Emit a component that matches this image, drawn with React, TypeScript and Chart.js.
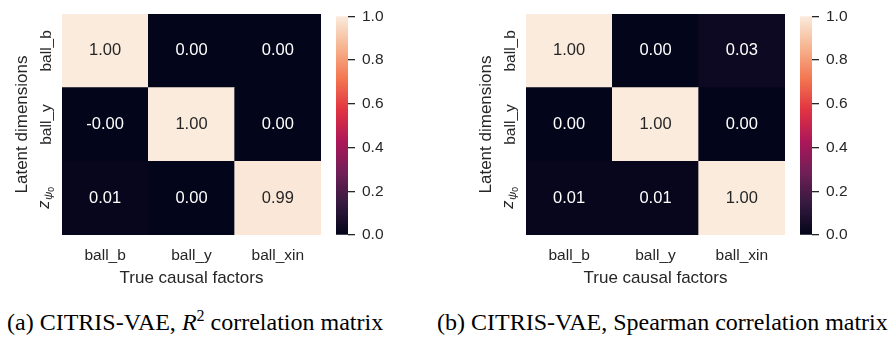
import React, { useEffect, useRef } from "react";
import { Chart, registerables } from "chart.js";

Chart.register(...registerables);

// ---------- data ----------
const factorLabels = ["ball_b", "ball_y", "ball_xin"];
const latentLabels = ["ball_b", "ball_y", "z_psi0"]; // top to bottom
const r2Matrix = [
  [1.0, 0.0, 0.0],
  [-0.001, 1.0, 0.0],
  [0.01, 0.0, 0.99],
];
const spearmanMatrix = [
  [1.0, 0.0, 0.03],
  [0.0, 1.0, 0.0],
  [0.01, 0.01, 1.0],
];
const colorbarTicks = [0, 0.2, 0.4, 0.6, 0.8, 1.0];
const xAxisTitle = "True causal factors";
const yAxisTitle = "Latent dimensions";

// ---------- styles ----------
const FONT = '"Liberation Sans", Arial, sans-serif';
const TEXT_DARK = "#262626";
const rocketStops: [number, string][] = [
  [0, "#03051a"],
  [1 / 7, "#35193e"],
  [2 / 7, "#701f57"],
  [3 / 7, "#ad1759"],
  [4 / 7, "#e13342"],
  [5 / 7, "#f37651"],
  [6 / 7, "#f6b48f"],
  [1, "#faebdd"],
];

function hexToRgb(h: string): number[] {
  return [1, 3, 5].map((i) => parseInt(h.slice(i, i + 2), 16));
}

function rocketRgb(v: number): number[] {
  const t = Math.max(0, Math.min(1, v));
  for (let i = 0; i < rocketStops.length - 1; i++) {
    const [p0, c0] = rocketStops[i];
    const [p1, c1] = rocketStops[i + 1];
    if (t <= p1) {
      const f = (t - p0) / (p1 - p0);
      const a = hexToRgb(c0);
      const b = hexToRgb(c1);
      return a.map((x, k) => Math.round(x + (b[k] - x) * f));
    }
  }
  return hexToRgb(rocketStops[rocketStops.length - 1][1]);
}

function rocketColor(v: number): string {
  const [r, g, b] = rocketRgb(v);
  return `rgb(${r},${g},${b})`;
}

function textColorFor(v: number): string {
  const lin = rocketRgb(v).map((c) => {
    const s = c / 255;
    return s <= 0.03928 ? s / 12.92 : Math.pow((s + 0.055) / 1.055, 2.4);
  });
  const lum = 0.2126 * lin[0] + 0.7152 * lin[1] + 0.0722 * lin[2];
  return lum > 0.408 ? TEXT_DARK : "#ffffff";
}

function makeHeatmap(canvas: HTMLCanvasElement, matrix: number[][]) {
  const nRows = matrix.length;
  const datasets: any[] = [];
  for (let r = nRows - 1; r >= 0; r--) {
    datasets.push({
      data: factorLabels.map(() => 1),
      backgroundColor: matrix[r].map((v) => rocketColor(v)),
      borderWidth: 0,
      barPercentage: 1,
      categoryPercentage: 1,
    });
  }

  const textPlugin = {
    id: "heatmapText",
    afterDraw(chart: any) {
      const ctx = chart.ctx as CanvasRenderingContext2D;
      const xs = chart.scales.x;
      const ys = chart.scales.y;
      ctx.save();
      ctx.textAlign = "center";
      ctx.textBaseline = "middle";
      ctx.font = `16.5px ${FONT}`;
      matrix.forEach((row, r) =>
        row.forEach((v, c) => {
          const x = xs.getPixelForValue(c);
          const y = ys.getPixelForValue(nRows - r - 0.5);
          ctx.fillStyle = textColorFor(v);
          ctx.fillText(v.toFixed(2), x, y);
        })
      );
      // row labels (rotated)
      const xc = chart.chartArea.left - 15;
      latentLabels.forEach((lab, r) => {
        const yc = ys.getPixelForValue(nRows - r - 0.5);
        ctx.save();
        ctx.translate(xc, yc);
        ctx.rotate(-Math.PI / 2);
        ctx.fillStyle = TEXT_DARK;
        if (lab === "z_psi0") {
          const f1 = `italic 16.5px ${FONT}`;
          const f2 = `italic 11.5px ${FONT}`;
          const f3 = `8.5px ${FONT}`;
          ctx.font = f1;
          const wz = ctx.measureText("z").width;
          ctx.font = f2;
          const wp = ctx.measureText("\u03c8").width;
          ctx.font = f3;
          const w0 = ctx.measureText("0").width;
          let x0 = -(wz + wp + w0) / 2;
          ctx.textAlign = "left";
          ctx.textBaseline = "alphabetic";
          ctx.font = f1;
          ctx.fillText("z", x0, 2);
          x0 += wz + 0.5;
          ctx.font = f2;
          ctx.fillText("\u03c8", x0, 5);
          x0 += wp;
          ctx.font = f3;
          ctx.fillText("0", x0, 7);
        } else {
          ctx.font = `15.5px ${FONT}`;
          ctx.fillText(lab, 0, 0);
        }
        ctx.restore();
      });
      ctx.restore();
    },
  };

  return new Chart(canvas, {
    type: "bar",
    data: { labels: factorLabels, datasets },
    options: {
      animation: false,
      responsive: false,
      maintainAspectRatio: false,
      devicePixelRatio: 1,
      events: [],
      layout: { padding: { top: 14, right: 9, left: 0, bottom: 0 } },
      plugins: { legend: { display: false }, tooltip: { enabled: false } },
      scales: {
        x: {
          stacked: true,
          grid: { display: false },
          border: { display: false },
          ticks: { color: TEXT_DARK, font: { family: FONT, size: 15.5 }, padding: 3 },
          title: {
            display: true,
            text: xAxisTitle,
            color: TEXT_DARK,
            font: { family: FONT, size: 17 },
            padding: { top: 0, bottom: 1 },
          },
          afterFit: (s: any) => {
            s.height = 55;
          },
        },
        y: {
          stacked: true,
          min: 0,
          max: 3,
          grid: { display: false },
          border: { display: false },
          ticks: { display: false },
          title: {
            display: true,
            text: yAxisTitle,
            color: TEXT_DARK,
            font: { family: FONT, size: 17 },
            padding: { top: 12, bottom: 0 },
          },
          afterFit: (s: any) => {
            s.width = 62;
          },
        },
      },
    },
    plugins: [textPlugin],
  } as any);
}

function makeColorbar(canvas: HTMLCanvasElement) {
  return new Chart(canvas, {
    type: "bar",
    data: {
      labels: [""],
      datasets: [
        {
          data: [[colorbarTicks[0], colorbarTicks[colorbarTicks.length - 1]]],
          backgroundColor: (c: any) => {
            const ca = c.chart.chartArea;
            if (!ca) return rocketColor(0.5);
            const g = c.chart.ctx.createLinearGradient(0, ca.bottom, 0, ca.top);
            rocketStops.forEach(([p, col]) => g.addColorStop(p, col));
            return g;
          },
          borderWidth: 0,
          barPercentage: 1,
          categoryPercentage: 1,
        },
      ],
    },
    options: {
      animation: false,
      responsive: false,
      maintainAspectRatio: false,
      devicePixelRatio: 1,
      events: [],
      layout: { padding: { top: 14, right: 0, left: 0, bottom: 55 } },
      plugins: { legend: { display: false }, tooltip: { enabled: false } },
      scales: {
        x: { display: false },
        y: {
          position: "right",
          min: 0,
          max: 1,
          afterBuildTicks: (s: any) => {
            s.ticks = colorbarTicks.map((v) => ({ value: v }));
          },
          grid: {
            display: true,
            drawOnChartArea: false,
            drawTicks: true,
            tickLength: 7,
            color: TEXT_DARK,
            lineWidth: 1.3,
          },
          border: { display: false },
          ticks: {
            color: TEXT_DARK,
            font: { family: FONT, size: 15.5 },
            padding: 7,
            callback: (v: any) => Number(v).toFixed(1),
          },
          afterFit: (s: any) => {
            s.width = 52;
          },
        },
      },
    },
  } as any);
}

function Panel({ left, matrix }: { left: number; matrix: number[][] }) {
  const hmRef = useRef<HTMLCanvasElement>(null);
  const cbRef = useRef<HTMLCanvasElement>(null);
  useEffect(() => {
    const hm = makeHeatmap(hmRef.current!, matrix);
    const cb = makeColorbar(cbRef.current!);
    return () => {
      hm.destroy();
      cb.destroy();
    };
  }, [matrix]);
  return (
    <>
      <canvas ref={hmRef} width={330} height={290} style={{ position: "absolute", left, top: 0 }} />
      <canvas ref={cbRef} width={64} height={290} style={{ position: "absolute", left: left + 336, top: 0 }} />
    </>
  );
}

const captionStyle: React.CSSProperties = {
  position: "absolute",
  top: 310,
  font: '24px "Liberation Serif", "Times New Roman", serif',
  lineHeight: "24px",
  whiteSpace: "nowrap",
  color: "#000",
};

export default function App() {
  return (
    <div
      style={{
        position: "absolute",
        left: 0,
        top: 0,
        width: 888,
        height: 339,
        background: "#fff",
        overflow: "hidden",
      }}
    >
      <Panel left={0} matrix={r2Matrix} />
      <Panel left={464} matrix={spearmanMatrix} />
      <div style={{ ...captionStyle, left: 7 }}>
        (a) CITRIS-VAE, <i>R</i>
        <span style={{ fontSize: 16, position: "relative", top: -9 }}>2</span> correlation matrix
      </div>
      <div style={{ ...captionStyle, left: 437 }}>(b) CITRIS-VAE, Spearman correlation matrix</div>
    </div>
  );
}
